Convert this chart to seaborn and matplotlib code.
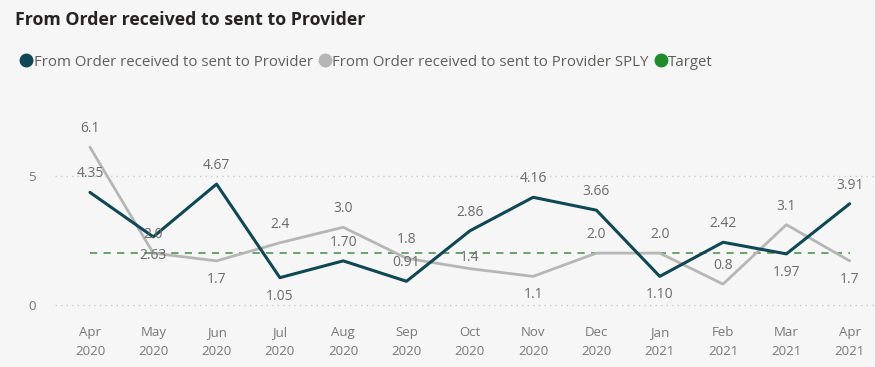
import matplotlib
matplotlib.use("Agg")
import matplotlib.pyplot as plt
from matplotlib.lines import Line2D
import seaborn as sns
import pandas as pd

months = ["Apr\n2020", "May\n2020", "Jun\n2020", "Jul\n2020", "Aug\n2020", "Sep\n2020",
          "Oct\n2020", "Nov\n2020", "Dec\n2020", "Jan\n2021", "Feb\n2021", "Mar\n2021", "Apr\n2021"]
actual = [4.35, 2.63, 4.67, 1.05, 1.70, 0.91, 2.86, 4.16, 3.66, 1.10, 2.42, 1.97, 3.91]
sply = [6.1, 2.0, 1.7, 2.4, 3.0, 1.8, 1.4, 1.1, 2.0, 2.0, 0.8, 3.1, 1.7]
target = [2.0] * 13
actual_labels = ["4.35", "2.63", "4.67", "1.05", "1.70", "0.91", "2.86", "4.16", "3.66", "1.10", "2.42", "1.97", "3.91"]
sply_labels = ["6.1", "2.0", "1.7", "2.4", "3.0", "1.8", "1.4", "1.1", "2.0", "2.0", "0.8", "3.1", "1.7"]
series_names = ["From Order received to sent to Provider",
                "From Order received to sent to Provider SPLY", "Target"]

# label placement (1 above, -1 below)
actual_pos = [1, -1, 1, -1, 1, 1, 1, 1, 1, -1, 1, -1, 1]
sply_pos = [1, 1, -1, 1, 1, 1, 0.3, -1, 1, 1, 1, 1, -1]

DARK = "#0d4854"
GRAY = "#b6b6b6"
GREEN = "#1e8c2a"
BG = "#f6f6f6"

sns.set_style("white")
plt.rcParams['font.family'] = ['Open Sans', 'DejaVu Sans']

fig = plt.figure(figsize=(8.75, 3.67), dpi=100, facecolor=BG)
ax = fig.add_axes([0.063, 0.142, 0.937, 0.531], facecolor=BG)

x = list(range(len(months)))
df = pd.DataFrame({
    "x": x * 3,
    "value": actual + sply + target,
    "series": [series_names[0]] * 13 + [series_names[1]] * 13 + [series_names[2]] * 13,
})
sns.lineplot(data=df[df.series == series_names[2]], x="x", y="value", ax=ax,
             color="#5a9e5a", linewidth=1.3, linestyle=(0, (4, 3.5)), legend=False)
sns.lineplot(data=df[df.series == series_names[1]], x="x", y="value", ax=ax,
             color=GRAY, linewidth=2.0, legend=False)
sns.lineplot(data=df[df.series == series_names[0]], x="x", y="value", ax=ax,
             color=DARK, linewidth=2.2, legend=False)

lab_color = "#6b6b6b"
for i in x:
    ax.annotate(actual_labels[i], (i, actual[i]), xytext=(0, 8 * actual_pos[i]),
                textcoords="offset points", ha="center",
                va="bottom" if actual_pos[i] > 0 else "top", fontsize=10, color=lab_color)
    ax.annotate(sply_labels[i], (i, sply[i]), xytext=(0, 8 * sply_pos[i]),
                textcoords="offset points", ha="center",
                va="bottom" if sply_pos[i] > 0 else "top", fontsize=10, color=lab_color)

ax.set_xlim(-0.55, 12.4)
ax.set_ylim(-0.39, 7.15)
ax.set_yticks([0, 5])
ax.set_yticklabels(["0", "5"])
ax.set_xticks(x)
ax.set_xticklabels(months)
ax.tick_params(axis="both", length=0, labelsize=9.5, colors="#777777")
ax.tick_params(axis="y", pad=14)
ax.tick_params(axis="x", pad=8)
for t in ax.get_xticklabels():
    t.set_linespacing(1.6)
ax.grid(axis="y", color="#c8c8c8", linestyle=(0, (1, 3)), linewidth=1.0)
ax.set_axisbelow(True)
ax.set_xlabel("")
ax.set_ylabel("")
for s in ax.spines.values():
    s.set_visible(False)

fig.text(0.017, 0.945, "From Order received to sent to Provider", fontsize=12.8,
         fontweight="bold", color="#252423", ha="left", va="center")

handles = [Line2D([], [], marker="o", linestyle="", markersize=9, color=c)
           for c in [DARK, GRAY, GREEN]]
fig.legend(handles, series_names, loc="center left", bbox_to_anchor=(0.006, 0.831),
           ncol=3, frameon=False, fontsize=10.8, handletextpad=0.0, columnspacing=0.3,
           handlelength=1.0, labelcolor="#605e5c")

fig.savefig("out.png", dpi=100, facecolor=BG)
